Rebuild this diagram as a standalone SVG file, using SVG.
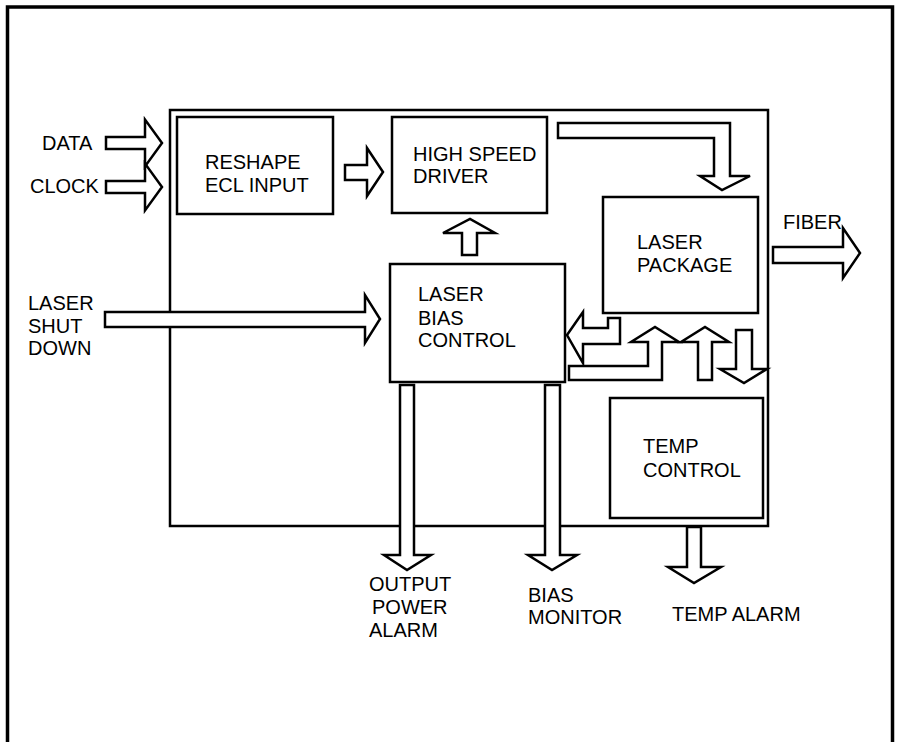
<svg xmlns="http://www.w3.org/2000/svg" width="898" height="742" viewBox="0 0 898 742">
<style>
.box{fill:#fff;stroke:#000;stroke-width:2.5}
.frame{fill:#fff;stroke:#000;stroke-width:3.5}
.arr{fill:#fff;stroke:#000;stroke-width:2.5;stroke-linejoin:miter}
text{font-family:"Liberation Sans",Arial,sans-serif;font-size:20px;fill:#000}
</style>
<rect class="frame" x="7.5" y="7" width="885" height="760"/>
<g id="main"><rect class="box" x="170" y="110" width="598" height="416"/></g>
<g id="reshape"><rect class="box" x="177" y="117" width="156" height="97"/><text x="205" y="169">RESHAPE</text><text x="205" y="192">ECL INPUT</text></g>
<g id="driver"><rect class="box" x="392" y="117" width="155" height="96"/><text x="413" y="161">HIGH SPEED</text><text x="413" y="183">DRIVER</text></g>
<g id="package"><rect class="box" x="603" y="197" width="155" height="116"/><text x="637" y="249">LASER</text><text x="637" y="272">PACKAGE</text></g>
<g id="bias"><rect class="box" x="390" y="264" width="175" height="118"/><text x="418" y="301">LASER</text><text x="418" y="325">BIAS</text><text x="418" y="347">CONTROL</text></g>
<g id="temp"><rect class="box" x="610" y="398" width="153" height="120"/><text x="643" y="453">TEMP</text><text x="643" y="477">CONTROL</text></g>
<g id="labels">
<text x="42" y="150">DATA</text>
<text x="30" y="193">CLOCK</text>
<text x="28" y="310">LASER</text><text x="28" y="333">SHUT</text><text x="28" y="355">DOWN</text>
<text x="783" y="229">FIBER</text>
<text x="369" y="591">OUTPUT</text><text x="372" y="614">POWER</text><text x="369" y="637">ALARM</text>
<text x="528" y="602">BIAS</text><text x="528" y="624">MONITOR</text>
<text x="672" y="621">TEMP ALARM</text>
</g>
<g id="connectors">
<polygon class="arr" points="106,137 145,137 145,119.5 162,143 145,166.5 145,149 106,149"/>
<polygon class="arr" points="106,181 145,181 145,163.5 162,187 145,210.5 145,193 106,193"/>
<polygon class="arr" points="345,165 367,165 367,148 383,172 367,196 367,180 345,180"/>
<polygon class="arr" points="558,123 730,123 730,176 750,176 722,190 700,176 714,176 714,138 558,138"/>
<polygon class="arr" points="462,255 462,233 443,233 470,219 495,233 477,233 477,255"/>
<polygon class="arr" points="105,312 365,312 365,295 380,319 365,343 365,327 105,327"/>
<polygon class="arr" points="773,247 843,247 843,228 860,253 843,278 843,263 773,263"/>
<polygon class="arr" points="567,335 583,312 583,328 608,328 608,318 620,318 620,344 583,344 583,363"/>
<polygon class="arr" points="569,366 648,366 648,342 631,342 655,327 679,342 662,342 662,380 569,380"/>
<polygon class="arr" points="698,380 698,342 681,342 705,327 729,342 712,342 712,380"/>
<polygon class="arr" points="736,330 752,330 752,369 767,369 744,383 720,369 736,369"/>
<polygon class="arr" points="400,385 414,385 414,555 431,555 407,570 384,555 400,555"/>
<polygon class="arr" points="545,385 560,385 560,555 577,555 552,570 528,555 545,555"/>
<polygon class="arr" points="687,527 701,527 701,567 721,567 694,583 668,567 687,567"/>
</g>
</svg>
